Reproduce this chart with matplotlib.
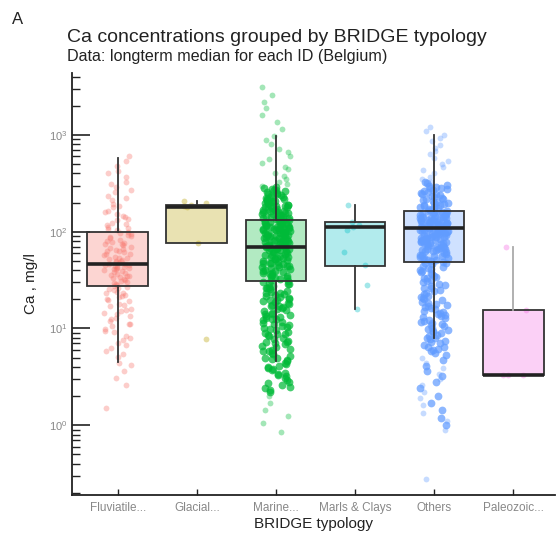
#!/usr/bin/env python3
# coding: utf-8

import matplotlib
matplotlib.use("Agg")
import matplotlib.pyplot as plt
import numpy as np
import pandas as pd
import seaborn as sns
from matplotlib.ticker import LogLocator

categories = ["Fluviatile...", "Glacial...", "Marine...", "Marls & Clays", "Others", "Paleozoic..."]
colors = ["#F8766D", "#B79F00", "#00BA38", "#00BFC4", "#619CFF", "#F564E3"]

# box statistics (mg/l)
q1 = [27.5, 77, 31, 44, 49, 3.3]
med = [46, 180, 70, 113, 110, 3.3]
q3 = [100, 190, 133, 127, 165, 15.5]
whis_lo = [4.5, 77, 4.6, 16, 8, 3.3]
whis_hi = [575, 210, 970, 190, 1000, 70]

# individual site medians (estimated from the point clouds)
fluviatile = [1.5, 2.6, 3.1, 3.6, 4.2, 4.4, 5.1, 5.8, 6.3, 7.0, 7.6, 8.4, 9.1, 9.8, 10.5, 11.2,
              12.0, 12.8, 13.5, 14.3, 15.1, 16.0, 17.2, 18.1, 19.0, 20.2, 21.3, 22.0, 23.4, 24.1,
              25.3, 26.0, 27.2, 28.1, 29.4, 30.2, 31.5, 33.0, 34.2, 35.6, 36.9, 38.0, 39.4, 40.8,
              42.1, 43.5, 44.6, 45.2, 46.0, 46.8, 48.3, 49.7, 51.2, 53.0, 55.1, 57.4, 59.0, 61.3,
              63.8, 66.2, 69.0, 72.5, 75.1, 78.4, 82.0, 86.3, 90.1, 94.6, 99.0, 104, 110, 117, 124,
              132, 141, 152, 163, 178, 195, 212, 236, 260, 290, 330, 370, 420, 480, 540, 600,
              5.4, 6.7, 8.0, 9.5, 11.0, 12.4, 14.0, 15.6, 17.6, 19.6, 21.7, 23.0, 24.7, 26.6,
              28.6, 30.8, 32.2, 34.9, 37.4, 39.9, 41.5, 43.0, 45.6, 47.4, 50.4, 54.0, 58.2, 62.5,
              67.5, 73.8, 80.1, 88.0, 97.0, 107, 120, 136, 158, 185, 225, 270, 310, 400, 35.1,
              41.9, 52.1, 64.7, 76.9, 92.4, 113, 145]
glacial = [7.8, 77, 180, 185, 190, 200, 210]
marine_tail = [3100, 2600, 2200, 1900, 1600, 1350, 1150, 980, 880, 800, 720, 660, 610, 560, 510,
               470, 440, 405, 378, 352, 330, 312, 296, 2.0, 1.7, 1.45, 1.25, 1.05, 0.85]
marine_core = [284, 276, 268, 259, 251, 244, 236, 229, 222, 216, 209, 203, 197, 191, 186, 181, 176,
               171, 167, 163, 159, 155, 151, 148, 144, 141, 137, 134,
               132, 129, 126, 123, 120, 117, 115, 112, 110, 107, 105, 103, 101, 99, 97, 95, 93, 91,
               89, 87, 86, 84, 82, 81, 79, 78, 76, 75, 73, 72, 71, 70, 69, 68, 67, 65, 64, 63, 61,
               60, 59, 58, 56, 55, 54, 53, 52, 51, 50, 49, 48, 47, 46, 45, 44, 43, 42, 41, 40, 39,
               38, 37, 36, 35, 34.5, 33.5, 32.5, 31.5,
               30.5, 29.5, 28.5, 27.5, 26.5, 25.5, 24.5, 23.5, 22.6, 21.7, 20.8, 19.9, 19.0, 18.2,
               17.4, 16.6, 15.8, 15.0, 14.2, 13.5, 12.8, 12.1, 11.4, 10.8, 10.2, 9.6, 9.0, 8.5, 8.0,
               7.5, 7.0, 6.6, 6.2, 5.8, 5.4, 5.0, 4.7, 4.4, 4.1, 3.8, 3.5, 3.2, 2.9, 2.6, 2.4, 2.2,
               288, 271, 263, 247, 239, 226, 219, 212, 206, 200, 194, 188, 183, 178, 173, 169, 165,
               161, 157, 153, 149, 146, 142, 139, 136, 131, 128, 125, 121, 118, 116, 113, 111, 108,
               106, 104, 102, 100, 98, 96, 94, 92, 90, 88, 85, 83, 80, 77, 74, 71.5, 69.5, 66, 62,
               57, 52.5, 47.5, 43.5, 39.5, 36.5, 33, 29, 26, 23, 21, 19.5, 18.6, 17.8, 17.0, 16.2,
               15.4, 14.6, 13.9, 13.2, 12.5, 11.8, 11.1, 10.5, 9.9, 9.3, 8.8, 8.3, 7.8, 7.3, 6.9,
               6.4, 6.0, 5.6, 5.2, 4.9, 4.6, 4.3, 4.0, 3.7, 3.4, 3.1, 2.8, 2.5, 2.3, 210, 185, 160,
               140, 124, 109, 92.5, 79.5, 65.5, 54.5, 44.5, 37.5, 31, 27, 24, 22, 20.3, 16.9, 14.1,
               12.4, 10.3, 8.7, 7.2, 5.9, 4.8, 3.9, 3.3, 2.7]
marls = [16, 28, 45, 62, 105, 113, 118, 126, 190]
others_tail = [1200, 1100, 1000, 930, 860, 790, 730, 680, 630, 580, 540, 500, 465, 430, 400, 372,
               348, 330, 5.0, 4.4, 3.9, 3.4, 3.0, 2.6, 2.2, 1.9, 1.6, 1.35, 1.1, 0.9, 0.28]
others_core = [318, 305, 292, 280, 269, 258, 248, 238, 229, 220, 212, 204, 196, 189, 182, 176, 170,
               164, 160, 156, 152, 148, 145, 142, 139, 136, 133, 130, 127, 125, 122, 120, 118, 116,
               114, 112, 110, 108, 106, 104, 102, 100, 98, 96, 94, 92, 90, 88, 86, 84, 82, 80, 78,
               76, 74, 72, 70, 68.5, 67, 65.5, 64, 62.5, 61, 59.5, 58, 56.5, 55, 53.5, 52, 50.5,
               49.5, 48, 46, 44, 42, 40, 38, 36.5, 35, 33.5, 32, 30.5, 29, 27.5, 26, 24.5, 23,
               21.8, 20.6, 19.5, 18.4, 17.3, 16.3, 15.3, 14.4, 13.5, 12.7, 11.9, 11.2, 10.5, 9.8,
               9.2, 8.6, 8.0, 7.5, 7.0, 6.5, 6.0, 5.6,
               325, 298, 285, 274, 263, 252, 243, 233, 224, 216, 208, 200, 193, 186, 179, 173, 167,
               162, 158, 154, 150, 146, 143, 140, 137, 134, 131, 128, 126, 123, 121, 119, 117, 115,
               113, 111, 109, 107, 105, 103, 101, 99, 97, 95, 93, 91, 89, 87, 85, 83, 81, 79, 77,
               75, 73, 71, 69, 66, 63, 60, 57, 54, 51, 47, 43, 39, 37.5, 34, 31, 28, 25, 22.5, 20,
               18.9, 17.8, 16.8, 15.8, 14.8, 13.9, 13.1, 12.3, 11.5, 10.8, 10.1, 9.5, 8.9, 8.3,
               7.7, 7.2, 6.7, 6.2, 5.8, 5.3, 4.7, 4.1, 3.6, 3.2, 2.8, 2.4, 2.0, 1.7, 1.45, 1.2,
               1.0, 190, 155, 132, 115, 101, 88, 76, 65, 56, 48.5, 41, 33, 26.5, 21, 17, 14, 11.6,
               9.6, 7.9, 6.4]
paleozoic = [3.3, 3.3, 3.3, 15.5, 70]

# (category, values, dense?) - the dense cores look much more saturated in the original
chunks = [
    ("Fluviatile...", fluviatile, False),
    ("Glacial...", glacial, False),
    ("Marine...", marine_tail, False),
    ("Marine...", marine_core, True),
    ("Marls & Clays", marls, False),
    ("Others", others_tail, False),
    ("Others", others_core, True),
    ("Paleozoic...", paleozoic, False),
]

plt.rcParams["font.family"] = ["Liberation Sans", "DejaVu Sans"]
np.random.seed(7)

fig = plt.figure(figsize=(5.58, 5.47), dpi=100)
ax = fig.add_axes([72 / 558, 52 / 547, 483 / 558, 422 / 547])
ax.set_yscale("log")

stats = []
for i in range(len(categories)):
    stats.append({"q1": q1[i], "med": med[i], "q3": q3[i],
                  "whislo": whis_lo[i], "whishi": whis_hi[i], "fliers": []})

# box fills under the points
fill = ax.bxp(stats, positions=range(len(categories)), widths=0.77, patch_artist=True,
              showcaps=False, showfliers=False, manage_ticks=False, zorder=0.5,
              boxprops=dict(linewidth=0), whiskerprops=dict(linewidth=0),
              medianprops=dict(linewidth=0))
for patch, c in zip(fill["boxes"], colors):
    patch.set_facecolor(matplotlib.colors.to_rgba(c, 0.3))

for cat, values, dense in chunks:
    sub = pd.DataFrame({"typology": [cat] * len(values), "ca": values})
    sns.stripplot(data=sub, x="typology", y="ca", order=categories,
                  color=colors[categories.index(cat)], jitter=0.18,
                  size=5.6 if dense else 4.2, alpha=0.72 if dense else 0.36,
                  linewidth=0, ax=ax, zorder=1)

# box outlines, whiskers and medians on top
bp = ax.bxp(stats, positions=range(len(categories)), widths=0.77, patch_artist=True,
            showcaps=False, showfliers=False, manage_ticks=False, zorder=3,
            boxprops=dict(edgecolor="#333333", facecolor="none", linewidth=1.3),
            whiskerprops=dict(color="#333333", linewidth=1.3),
            medianprops=dict(color="#222222", linewidth=2.6))
# the paleozoic whisker is drawn lighter in the original
for w in bp["whiskers"][10:12]:
    w.set_color("#aaaaaa")

ax.set_xlim(-0.58, 5.53)
ax.set_ylim(0.19, 4370)
ax.set_xticks(range(len(categories)))
ax.set_xticklabels(categories)
ax.yaxis.set_major_locator(LogLocator(base=10, numticks=10))
ax.yaxis.set_minor_locator(LogLocator(base=10, subs=np.arange(2, 10), numticks=20))

for side in ["top", "right"]:
    ax.spines[side].set_visible(False)
for side in ["left", "bottom"]:
    ax.spines[side].set_linewidth(1.3)
    ax.spines[side].set_color("#222222")

ax.tick_params(axis="y", which="major", direction="in", length=13, width=1.2,
               labelsize=8, labelcolor="#888888", color="#222222")
ax.tick_params(axis="y", which="minor", direction="in", length=6, width=1.0, color="#222222")
ax.tick_params(axis="x", which="major", direction="in", length=4, width=1.0,
               labelsize=8.5, labelcolor="#888888", color="#222222", pad=5)

ax.set_xlabel("BRIDGE typology", fontsize=11, color="#222222", labelpad=2)
ax.set_ylabel("Ca , mg/l", fontsize=11, color="#222222", labelpad=8)

fig.text(12 / 558, 1 - 24 / 547, "A", fontsize=12, color="#222222")
fig.text(67 / 558, 1 - 42 / 547, "Ca concentrations grouped by BRIDGE typology",
         fontsize=14, color="#222222")
fig.text(67 / 558, 1 - 61 / 547, "Data: longterm median for each ID (Belgium)",
         fontsize=11.6, color="#222222")

fig.savefig("out.png", dpi=100)
